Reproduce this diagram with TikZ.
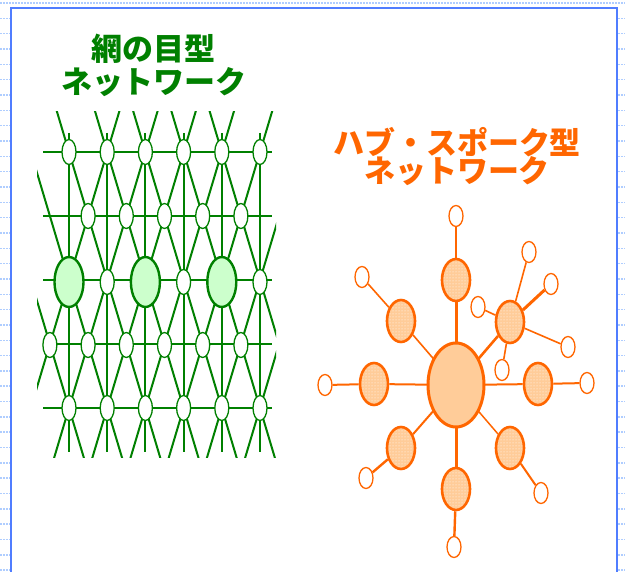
\documentclass[tikz,border=0pt]{standalone}
\usepackage{fontspec}
\newfontfamily\cjk{Noto Sans CJK JP}
\usetikzlibrary{shapes.geometric,patterns}
\definecolor{meshgreen}{RGB}{0,128,0}
\definecolor{lightgreen}{RGB}{204,255,204}
\definecolor{hubor}{RGB}{255,102,0}
\definecolor{hubfill}{RGB}{255,204,153}
\definecolor{frameblue}{RGB}{80,125,255}
\definecolor{dotblue}{RGB}{175,205,255}
\tikzset{
  meshline/.style={draw=meshgreen, line width=2},
  msmall/.style={ellipse, draw=meshgreen, fill=white, line width=1.3, minimum width=14, minimum height=25, inner sep=0},
  mbig/.style={ellipse, draw=meshgreen, fill=lightgreen, line width=2.4, minimum width=29, minimum height=50, inner sep=0},
  hubnode/.style={ellipse, draw=hubor, fill=hubfill, line width=3, minimum width=56, minimum height=84, inner sep=0},
  spoke/.style={ellipse, draw=hubor, preaction={fill=hubfill}, pattern=dots, pattern color=white, line width=2.6, minimum width=28, minimum height=42, inner sep=0},
  leaf/.style={ellipse, draw=hubor, fill=white, line width=1.3, minimum width=14, minimum height=21, inner sep=0},
  hl/.style={draw=hubor, line width=#1},
  titletext/.style={font=\cjk\bfseries\fontsize{31}{32}\selectfont, align=center, inner sep=0}
}
\begin{document}
\begin{tikzpicture}[x=1pt,y=-1pt]
\useasboundingbox (0,0) rectangle (625,572);
% dotted background grid
\foreach \k in {0,...,37}
  \draw[dotblue, line width=1.5, dash pattern=on 1.5pt off 1.5pt] (0,{3+15.33*\k}) -- (625,{3+15.33*\k});
% frame
\fill[white] (10.5,8) rectangle (617,590);
\draw[frameblue, line width=2] (10.5,8) rectangle (617,590);

% ---------- mesh network ----------
\begin{scope}
\clip (37,112) rectangle (276,458);
\foreach \c in {2,4,...,14}
  \draw[meshline] ({69+19.1*(\c+1)},88) -- ({69+19.1*(\c-5)},472);
\foreach \d in {-4,-2,...,8}
  \draw[meshline] ({69+19.1*(\d-1)},88) -- ({69+19.1*(\d+5)},472);
\end{scope}
\foreach \m in {0,2,...,10}
  \draw[meshline] ({69+19.1*\m},133) -- ({69+19.1*\m},452);
\foreach \r in {0,...,4}
  \draw[meshline] (43,{152+64*\r}) -- (272,{152+64*\r});
% nodes
\foreach \m in {0,2,...,10} {
  \node[msmall] (a\m) at ({69+19.1*\m},152) {};
  \node[msmall] (e\m) at ({69+19.1*\m},408) {};
}
\foreach \m in {1,3,...,9}
  \node[msmall] (b\m) at ({69+19.1*\m},216) {};
\foreach \m in {-1,1,...,9}
  \node[msmall] (d\m) at ({69+19.1*\m},345) {};
\foreach \m in {2,6,10}
  \node[msmall] (c\m) at ({69+19.1*\m},282) {};
\foreach \m in {0,4,8}
  \node[mbig] (c\m) at ({69+19.1*\m},282) {};

\node[titletext, text=meshgreen] (t1) at (154,65) {網の目型\\[1pt]ネットワーク};

% ---------- hub and spoke ----------
\node[titletext, text=hubor] (t2) at (457,157) {ハブ・スポーク型\\[-4pt]ネットワーク};

\coordinate (hc) at (456,385);
\node[spoke] (s1) at (456,280) {};
\node[spoke] (s2) at (401,321) {};
\node[spoke] (s3) at (510,322) {};
\node[spoke] (s4) at (374,384) {};
\node[spoke] (s5) at (538,384) {};
\node[spoke] (s6) at (401,448) {};
\node[spoke] (s7) at (510,448) {};
\node[spoke] (s8) at (456,489) {};

\node[leaf] (l1) at (456,216) {};
\node[leaf] (l2) at (362,277) {};
\node[leaf] (l3a) at (529,252) {};
\node[leaf] (l3b) at (551,284) {};
\node[leaf] (l3c) at (568,347) {};
\node[leaf] (l3d) at (502,370) {};
\node[leaf] (l3e) at (478,307) {};
\node[leaf] (l4) at (325,385) {};
\node[leaf] (l5) at (587,383) {};
\node[leaf] (l6) at (366,478) {};
\node[leaf] (l7) at (541,493) {};
\node[leaf] (l8) at (454,547) {};

% spoke-leaf lines
\draw[hl=2.2] (s1) -- (l1);
\draw[hl=1.6] (s2) -- (l2);
\draw[hl=1.6] (s3) -- (l3a);
\draw[hl=3] (s3) -- (l3b);
\draw[hl=1.6] (s3) -- (l3c);
\draw[hl=1.6] (s3) -- (l3d);
\draw[hl=1.6] (s3) -- (l3e);
\draw[hl=2] (s4) -- (l4);
\draw[hl=2] (s5) -- (l5);
\draw[hl=2.4] (s6) -- (l6);
\draw[hl=2] (s7) -- (l7);
\draw[hl=2.4] (s8) -- (l8);
% hub lines
\draw[hl=3] (hc) -- (s1);
\draw[hl=1.6] (hc) -- (s2);
\draw[hl=2.6] (hc) -- (s3);
\draw[hl=2] (hc) -- (s4);
\draw[hl=2] (hc) -- (s5);
\draw[hl=2] (hc) -- (s6);
\draw[hl=1.5] (hc) -- (s7);
\draw[hl=3] (hc) -- (s8);
\node[hubnode] (hub) at (hc) {};
\end{tikzpicture}
\end{document}
